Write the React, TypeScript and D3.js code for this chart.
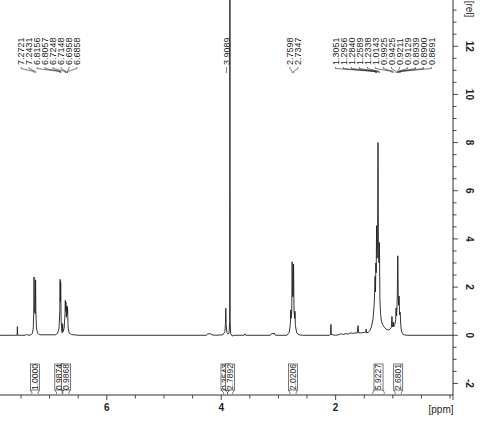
import React from 'react';
import * as d3 from 'd3';

// ---- data ----
const tracePoints: [number, number][] = [
  [7.867, 0.0], [7.6, 0.0], [7.568, 0.0], [7.563, 0.36], [7.558, 0.0],
  [7.42, 0.0], [7.4, 0.05], [7.38, 0.0],
  [7.33, 0.02], [7.3, 0.08], [7.285, 0.3], [7.275, 1.2], [7.272, 2.42], [7.266, 1.0],
  [7.252, 0.9], [7.245, 2.3], [7.24, 1.0], [7.23, 0.3], [7.21, 0.08], [7.17, 0.02],
  [6.9, 0.02], [6.86, 0.08], [6.835, 0.3], [6.822, 1.0], [6.816, 2.32], [6.811, 1.4],
  [6.806, 2.2], [6.798, 0.6], [6.788, 0.25], [6.78, 0.1], [6.772, 0.48], [6.765, 0.15],
  [6.745, 0.3], [6.73, 0.9], [6.725, 1.45], [6.72, 1.0], [6.715, 1.38], [6.706, 0.75],
  [6.696, 1.22], [6.691, 0.9], [6.686, 1.15], [6.677, 0.35], [6.66, 0.1], [6.62, 0.03],
  [6.5, 0.0], [4.26, 0.0], [4.23, 0.07], [4.21, 0.04], [4.19, 0.09], [4.17, 0.02], [4.1, 0.0],
  [3.97, 0.02], [3.935, 0.15], [3.925, 0.5], [3.92, 1.12], [3.914, 0.45], [3.9, 0.12],
  [3.88, 0.05], [3.862, 0.1], [3.852, 0.6], [3.848, 16.0], [3.844, 0.6], [3.835, 0.08],
  [3.81, -0.03], [3.77, 0.0], [3.6, 0.0], [3.585, 0.06], [3.57, 0.0],
  [3.14, 0.0], [3.11, 0.09], [3.09, 0.05], [3.075, 0.1], [3.05, 0.0],
  [2.85, 0.0], [2.81, 0.12], [2.79, 0.5], [2.785, 1.05], [2.778, 0.7], [2.767, 1.0],
  [2.76, 3.05], [2.752, 1.6], [2.742, 1.6], [2.735, 2.95], [2.727, 1.0], [2.716, 0.7],
  [2.71, 1.0], [2.703, 0.4], [2.68, 0.1], [2.64, 0.02], [2.58, 0.0],
  [2.11, 0.0], [2.088, 0.03], [2.082, 0.45], [2.076, 0.03], [2.0, 0.0],
  [1.95, 0.02], [1.9, 0.06], [1.86, 0.03], [1.82, 0.07], [1.78, 0.05], [1.74, 0.1],
  [1.7, 0.08], [1.66, 0.1], [1.62, 0.1], [1.608, 0.4], [1.598, 0.1], [1.55, 0.1],
  [1.5, 0.12], [1.475, 0.12], [1.466, 0.26], [1.458, 0.1], [1.43, 0.12], [1.4, 0.2],
  [1.37, 0.38], [1.345, 0.7], [1.325, 1.3], [1.315, 2.0], [1.31, 2.45], [1.303, 1.8],
  [1.296, 3.0], [1.29, 2.6], [1.284, 4.55], [1.276, 3.2], [1.266, 4.0], [1.259, 8.0],
  [1.252, 3.4], [1.241, 3.0], [1.234, 3.85], [1.226, 1.5], [1.215, 0.9], [1.2, 0.6],
  [1.18, 0.45], [1.15, 0.33], [1.11, 0.25], [1.07, 0.22], [1.04, 0.28], [1.025, 0.35],
  [1.015, 0.78], [1.008, 0.35], [0.998, 0.4], [0.992, 0.55], [0.985, 0.35], [0.965, 0.45],
  [0.95, 0.65], [0.943, 1.13], [0.935, 0.8], [0.925, 1.3], [0.92, 2.0], [0.913, 3.3],
  [0.905, 1.6], [0.897, 1.25], [0.894, 1.45], [0.89, 1.63], [0.882, 0.85], [0.87, 0.95],
  [0.862, 0.45], [0.85, 0.18], [0.83, 0.06], [0.8, 0.02], [0.75, 0.0], [-0.052, 0.0],
];

const peakGroup1 = [7.2721, 7.2431, 6.8156, 6.8057, 6.7248, 6.7148, 6.6958, 6.6858];
const peakGroup2 = [3.9089];
const peakGroup3 = [2.7598, 2.7347];
const peakGroup4 = [1.3051, 1.2956, 1.284, 1.2589, 1.2338, 1.0143, 0.9925, 0.9425, 0.9211, 0.9129, 0.8939, 0.89, 0.8691];

const integralLabels = ['1.0000', '0.9874', '0.9868', '0.3543', '2.7892', '2.0206', '5.9227', '2.6801'];
const integralFrom = [7.31, 6.88, 6.77, 3.96, 3.89, 2.8, 1.35, 0.96];
const integralTo = [7.2, 6.78, 6.66, 3.89, 3.8, 2.69, 1.15, 0.85];

const xTickLabels = [2, 4, 6];
const yTickLabels = [-2, 0, 2, 4, 6, 8, 10, 12];

// ---- layout ----
const W = 480, H = 430;
const AX_X = 453, AX_Y = 395;
const labelCenters = [49, 226.5, 294, 383.5];
const labelSpacing = 8;
const FONT = "'Liberation Sans', Arial, Helvetica, sans-serif";
const INK = '#1e1e1e';

function fmt(v: number) { return v.toFixed(4); }

export default function App() {
  const x = d3.scaleLinear().domain([7.867, -0.052]).range([0, AX_X]);
  const y = d3.scaleLinear().domain([-2.48, 13.92]).range([AX_Y, 0]);
  const line = d3.line<[number, number]>().x(d => x(d[0])).y(d => y(d[1]));

  const xTicks = d3.range(0, 7.51, 0.5);
  const yTicks = d3.range(-2, 13.51, 0.5);

  const groups = [peakGroup1, peakGroup2, peakGroup3, peakGroup4];
  const labelBottom = 65;

  return (
    <svg width={W} height={H} style={{ position: 'absolute', left: 0, top: 0, background: '#fff' }}
      fontFamily={FONT}>
      <defs>
        <clipPath id="plotclip"><rect x={0} y={0} width={AX_X} height={AX_Y} /></clipPath>
      </defs>
      <rect x={0} y={0} width={W} height={H} fill="#fff" />

      {/* spectrum */}
      <path d={line(tracePoints) || ''} fill="none" stroke={INK} strokeWidth={0.9}
        clipPath="url(#plotclip)" strokeLinejoin="round" />

      {/* peak labels */}
      {groups.map((g, gi) => {
        const n = g.length;
        const c = labelCenters[gi];
        return g.map((v, i) => {
          const lx = c + (i - (n - 1) / 2) * labelSpacing;
          const px = x(v);
          return (
            <g key={`pl${gi}-${i}`}>
              <text x={lx} y={labelBottom} transform={`rotate(-90 ${lx} ${labelBottom})`}
                dy="0.35em" fontSize={9} fill={INK} textAnchor="start">{fmt(v)}</text>
              <path d={`M${lx},${labelBottom + 2} L${lx},${labelBottom + 3.5} L${px},${labelBottom + 6.5} L${px},${labelBottom + 8}`}
                fill="none" stroke={INK} strokeWidth={0.6} />
            </g>
          );
        });
      })}

      {/* integrals */}
      {integralLabels.map((lab, i) => {
        const x0 = x(integralFrom[i]);
        const x1 = x(integralTo[i]);
        const cx = (x0 + x1) / 2;
        const bw = 9, by = 364, bh = 26;
        return (
          <g key={`int${i}`}>
            <path d={`M${cx - bw / 2},${by + bh} L${x0},${by + bh + 2.5} L${x0},${AX_Y - 1}`} fill="none" stroke={INK} strokeWidth={0.6} />
            <path d={`M${cx + bw / 2},${by + bh} L${x1},${by + bh + 2.5} L${x1},${AX_Y - 1}`} fill="none" stroke={INK} strokeWidth={0.6} />
            <rect x={cx - bw / 2} y={by} width={bw} height={bh} fill="#fff" stroke={INK} strokeWidth={0.6} />
            <text x={cx} y={by + bh / 2} transform={`rotate(-90 ${cx} ${by + bh / 2})`} dy="0.35em"
              textAnchor="middle" fontSize={8.5} fill={INK}>{lab}</text>
          </g>
        );
      })}

      {/* x axis */}
      <line x1={0} x2={AX_X} y1={AX_Y} y2={AX_Y} stroke={INK} strokeWidth={0.9} />
      {xTicks.map(t => {
        const major = xTickLabels.includes(t);
        return <line key={`xt${t}`} x1={x(t)} x2={x(t)} y1={AX_Y} y2={AX_Y + (major ? 5 : 3.5)} stroke={INK} strokeWidth={0.8} />;
      })}
      <line x1={AX_X} x2={AX_X} y1={AX_Y} y2={AX_Y + 5} stroke={INK} strokeWidth={0.8} />
      {xTickLabels.map(t => (
        <text key={`xl${t}`} x={x(t)} y={410.5} textAnchor="middle" fontSize={10} fontWeight="bold" fill={INK}>{t}</text>
      ))}
      <text x={441} y={413} textAnchor="middle" fontSize={10} fill={INK}>[ppm]</text>

      {/* y axis (right) */}
      <line x1={AX_X} x2={AX_X} y1={0} y2={AX_Y} stroke={INK} strokeWidth={0.9} />
      {yTicks.map(t => {
        const major = yTickLabels.includes(t);
        return <line key={`yt${t}`} x1={AX_X} x2={AX_X + (major ? 5 : 3.5)} y1={y(t)} y2={y(t)} stroke={INK} strokeWidth={0.8} />;
      })}
      {yTickLabels.map(t => (
        <text key={`yl${t}`} x={469} y={y(t)} transform={`rotate(90 469 ${y(t)})`} dy="0.35em"
          textAnchor="middle" fontSize={10} fontWeight="bold" fill={INK}>{t}</text>
      ))}
      <text x={469} y={9} transform="rotate(90 469 9)" dy="0.35em" textAnchor="middle" fontSize={10} fill={INK}>[rel]</text>
    </svg>
  );
}
